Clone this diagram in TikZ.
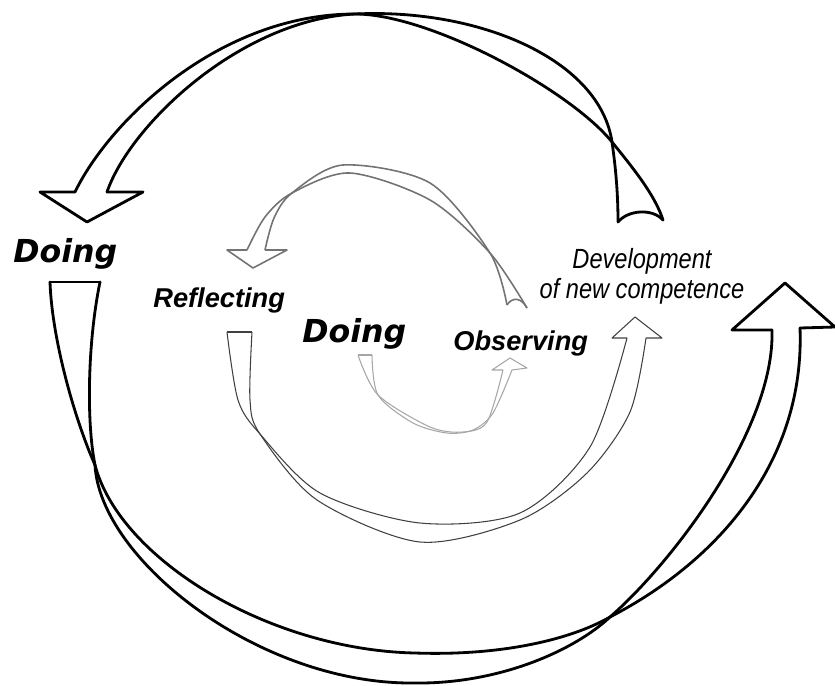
\documentclass[tikz,border=0pt]{standalone}
\usepackage{fontspec}
\setmainfont{Liberation Sans}
\newfontfamily\doingfont{DejaVu Sans Bold Oblique}
\newfontfamily\narrowfont{Liberation Sans}[FakeStretch=0.85]

\begin{document}
\begin{tikzpicture}[x=0.02cm, y=-0.02cm,
  outerloop/.style={draw=black, line width=1.6pt, line join=round, line cap=round},
  midloop/.style={draw=black!55, line width=0.9pt, line join=round},
  lowloop/.style={draw=black!75, line width=0.6pt, line join=round},
  innerloop/.style={draw=black!35, line width=0.6pt, line join=round},
  doinglabel/.style={font=\doingfont\fontsize{18}{20}\selectfont, inner sep=0pt, anchor=base west},
  phaselabel/.style={font=\bfseries\itshape\fontsize{15.5}{19}\selectfont, inner sep=0pt, anchor=base west},
  devlabel/.style={font=\narrowfont\itshape\fontsize{15.8}{19}\selectfont, inner sep=0pt, anchor=base}]
\useasboundingbox (0,0) rectangle (835,686);

% labels
\node[doinglabel] (doing1) at (13,262) {Doing};
\node[phaselabel] (reflect) at (153,307) {Reflecting};
\node[doinglabel] (doing2) at (302,342) {Doing};
\node[phaselabel] (observe) at (453,350) {Observing};
\node[devlabel] (dev) at (642,268) {Development};
\node[devlabel] (comp) at (642,298) {of new competence};

% outer loop, top arrow
\draw[outerloop] (75,192) .. controls (110,120) and (220,14) .. (355,14)
  .. controls (430,14) and (570,90) .. (612,142)
  .. controls (633,168) and (655,195) .. (663,220);
\draw[outerloop] (107,192) .. controls (130,125) and (240,20) .. (355,14)
  .. controls (480,8) and (600,60) .. (612,142)
  .. controls (616,170) and (618,195) .. (618,222);
\draw[outerloop] (618,222) .. controls (628,210) and (652,208) .. (663,220);
\draw[outerloop] (75,192) -- (40,192) -- (87,222) -- (143,192) -- (107,192);

% outer loop, bottom arrow
\draw[outerloop] (50,282) .. controls (52,340) and (75,420) .. (95,465)
  .. controls (120,560) and (270,650) .. (415,653)
  .. controls (500,656) and (570,640) .. (610,617)
  .. controls (720,560) and (805,460) .. (800,328);
\draw[outerloop] (100,282) .. controls (88,340) and (86,420) .. (95,465)
  .. controls (100,560) and (260,685) .. (415,683)
  .. controls (500,684) and (575,650) .. (610,617)
  .. controls (670,565) and (775,430) .. (772,330);
\draw[outerloop] (50,282) -- (100,282);
\draw[outerloop] (772,330) -- (732,330) -- (785,283) -- (835,327) -- (800,328);

% middle loop, top arrow
\draw[midloop] plot[smooth] coordinates {(247,250) (265,217) (292,193) (350,173) (430,200) (490,253) (527,308)};
\draw[midloop] plot[smooth] coordinates {(265,250) (274,218) (292,193) (343,165) (430,183) (490,253) (507,305)};
\draw[midloop] (507,305) .. controls (512,297) and (521,297) .. (527,308);
\draw[midloop] (247,250) -- (227,250) -- (253,268) -- (287,250) -- (265,250);

% middle loop, bottom arrow
\draw[lowloop] plot[smooth] coordinates {(227,332) (238,400) (260,434) (320,493) (420,523) (520,513) (590,447) (627,338)};
\draw[lowloop] plot[smooth] coordinates {(252,332) (250,400) (260,434) (317,500) (420,542) (520,520) (587,473) (630,412) (646,338)};
\draw[lowloop] (227,332) -- (252,332);
\draw[lowloop] (627,338) -- (612,338) -- (635,317) -- (662,338) -- (646,338);

% inner loop
\draw[innerloop] plot[smooth] coordinates {(358,355) (378,395) (430,427) (463,432) (487,422) (503,370)};
\draw[innerloop] plot[smooth] coordinates {(372,355) (378,395) (413,423) (447,433) (473,430) (493,413) (512,370)};
\draw[innerloop] (358,355) -- (372,355);
\draw[innerloop] (503,370) -- (492,370) -- (510,358) -- (527,368) -- (512,370);
\end{tikzpicture}
\end{document}
